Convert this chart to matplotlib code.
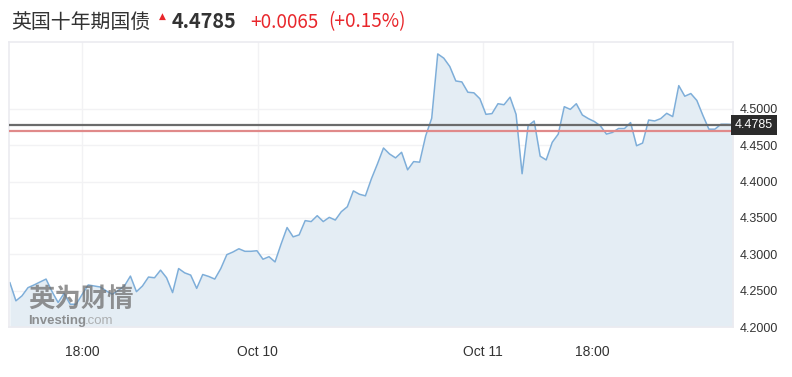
import matplotlib
matplotlib.use("Agg")
import matplotlib.pyplot as plt
import numpy as np
from matplotlib import transforms

# UK 10Y gilt yield, intraday samples
yields = [
    4.2609, 4.2360, 4.2428, 4.2541, 4.2578, 4.2619, 4.2659, 4.2486, 4.2337, 4.2463,
    4.2313, 4.2313, 4.2450, 4.2578, 4.2564, 4.2550, 4.2496, 4.2450, 4.2504, 4.2564,
    4.2700, 4.2486, 4.2564, 4.2687, 4.2677, 4.2782, 4.2677, 4.2473, 4.2804, 4.2745,
    4.2714, 4.2531, 4.2722, 4.2695, 4.2659, 4.2804, 4.2995, 4.3031, 4.3076, 4.3041,
    4.3041, 4.3049, 4.2932, 4.2967, 4.2895, 4.3140, 4.3368, 4.3240, 4.3267, 4.3463,
    4.3450, 4.3531, 4.3450, 4.3508, 4.3471, 4.3586, 4.3654, 4.3872, 4.3826, 4.3804,
    4.4040, 4.4244, 4.4462, 4.4380, 4.4326, 4.4403, 4.4162, 4.4275, 4.4267, 4.4629,
    4.4871, 4.5756, 4.5698, 4.5583, 4.5384, 4.5371, 4.5229, 4.5221, 4.5139, 4.4925,
    4.4935, 4.5071, 4.5057, 4.5161, 4.4925, 4.4108, 4.4766, 4.4834, 4.4349, 4.4298,
    4.4540, 4.4653, 4.5030, 4.4993, 4.5071, 4.4916, 4.4866, 4.4826, 4.4766, 4.4653,
    4.4676, 4.4730, 4.4730, 4.4812, 4.4493, 4.4530, 4.4847, 4.4834, 4.4866, 4.4939,
    4.4894, 4.5320, 4.5174, 4.5211, 4.5116, 4.4911, 4.4721, 4.4721, 4.4789, 4.4789,
    4.4785,
]
last_price = 4.4785
prev_close = 4.4700
change = "+0.0065"
change_pct = "(+0.15%)"
title = "英国十年期国债"

tick_idx = [12, 41.1, 78.5, 96.7]
tick_labels = ["18:00", "Oct 10", "Oct 11", "18:00"]
y_ticks = [4.20, 4.25, 4.30, 4.35, 4.40, 4.45, 4.50]

cjk = ["Noto Sans CJK SC", "DejaVu Sans"]

fig = plt.figure(figsize=(7.92, 3.77), dpi=100)
ax = fig.add_axes([9 / 792, 50 / 377, 724 / 792, 285 / 377])

x = np.arange(len(yields))
ymin = 4.20
ax.fill_between(x, yields, ymin, color="#e4edf4", lw=0)
ax.plot(x, yields, color="#7eaed9", lw=1.1)

ax.axhline(last_price, color="#6b6b6b", lw=1.6, zorder=4)
ax.axhline(prev_close, color="#e08a8a", lw=1.6, zorder=3)

ax.set_xlim(-0.15, len(yields) - 1)
ax.set_ylim(ymin, 4.592)
ax.set_xticks(tick_idx)
ax.set_xticklabels(tick_labels)
ax.set_yticks(y_ticks)
ax.set_yticklabels([f"{v:.4f}" for v in y_ticks])
ax.yaxis.tick_right()
ax.tick_params(axis="both", length=0, labelsize=9, colors="#333333",
               labelfontfamily="Liberation Sans")
ax.tick_params(axis="x", labelsize=10, pad=13)
ax.tick_params(axis="y", pad=5)
ax.grid(color="#f2f2f4", lw=1)
ax.set_axisbelow(True)
for s in ax.spines.values():
    s.set_color("#ebebf0")
    s.set_linewidth(1.2)

# current price tag on the right axis
trans = transforms.blended_transform_factory(ax.transAxes, ax.transData)
ax.text(1.003, last_price, f"{last_price:.4f}", transform=trans, ha="left",
        va="center", color="white", fontsize=9, family="Liberation Sans",
        zorder=6, clip_on=False,
        bbox=dict(boxstyle="square,pad=0.32", facecolor="#2b2b2b", edgecolor="none"))

# watermark
ax.text(0.026, 0.045, "英为财情", transform=ax.transAxes, fontsize=19,
        fontweight="bold", color="#6f6f6f", alpha=0.75, family=cjk,
        ha="left", va="bottom")
ax.text(0.026, 0.0, "Investing", transform=ax.transAxes, fontsize=9.5,
        fontweight="bold", color="#6f6f6f", alpha=0.75, family="Liberation Sans",
        ha="left", va="bottom")
ax.text(0.105, 0.0, ".com", transform=ax.transAxes, fontsize=9.5,
        color="#9a9a9a", alpha=0.75, family="Liberation Sans",
        ha="left", va="bottom")

# header line
fig.text(11 / 792, 1 - 22 / 377, title, fontsize=14.3, color="#333333",
         family=cjk, va="center", ha="left")
fig.text(162 / 792, 1 - 16 / 377, "▲", fontsize=6.5, color="#e8262b",
         family="DejaVu Sans", va="center", ha="center")
fig.text(172 / 792, 1 - 22 / 377, f"{last_price:.4f}", fontsize=14.3,
         fontweight="bold", color="#333333", family=cjk, va="center", ha="left")
fig.text(250 / 792, 1 - 22 / 377, change, fontsize=13.6, color="#e8262b",
         family=cjk, va="center", ha="left")
fig.text(328 / 792, 1 - 22 / 377, change_pct, fontsize=13.6, color="#e8262b",
         family=cjk, va="center", ha="left")

fig.savefig("out.png", dpi=100)
